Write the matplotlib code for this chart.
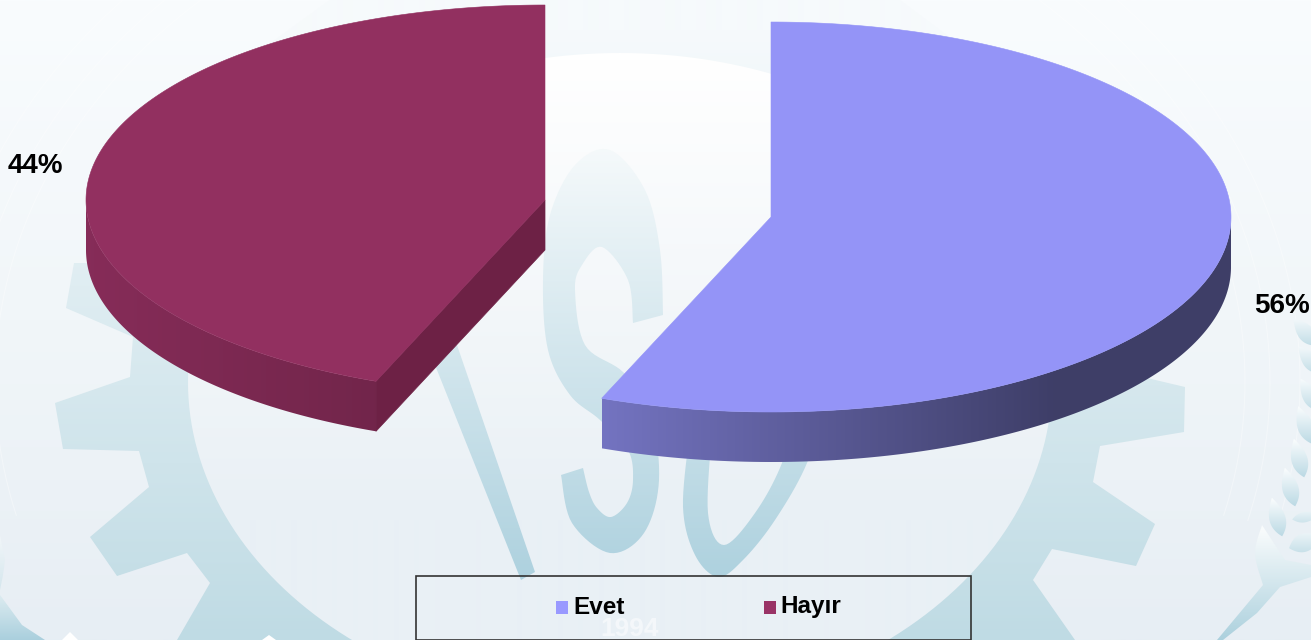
import numpy as np
import matplotlib
matplotlib.use("Agg")
import matplotlib.pyplot as plt
from matplotlib.path import Path
from matplotlib.patches import PathPatch, Polygon, Rectangle
from matplotlib.colors import LinearSegmentedColormap, to_rgb

# ---- data ----
categories = ["Evet", "Hayır"]
values = [56, 44]
labels = ["56%", "44%"]
top_colors = ["#9494F7", "#923060"]
legend_colors = ["#9999FF", "#993366"]
label_xy = [(1282, 306), (35.5, 166)]

W, H = 1311, 640
fig = plt.figure(figsize=(W / 100, H / 100), dpi=100)
ax = fig.add_axes([0, 0, 1, 1])
ax.set_xlim(0, W)
ax.set_ylim(H, 0)
ax.axis("off")
FONT = ["Liberation Sans", "DejaVu Sans"]
plt.rcParams["font.family"] = FONT

EXT = (0, W, H, 0)

# ---- background gradient ----
bg = LinearSegmentedColormap.from_list("bg", [(0, "#F9FCFE"), (0.5, "#F1F6F9"), (1, "#E7EEF4")])
ax.imshow(np.linspace(0, 1, 256)[:, None], cmap=bg, extent=EXT, aspect="auto", zorder=0)


def smooth(pts, n=10):
    p = np.array([pts[0]] + list(pts) + [pts[-1]], float)
    out = []
    for i in range(1, len(p) - 2):
        for t in np.linspace(0, 1, n, endpoint=False):
            out.append(0.5 * (2 * p[i] + (p[i + 1] - p[i - 1]) * t
                              + (2 * p[i - 1] - 5 * p[i] + 4 * p[i + 1] - p[i + 2]) * t ** 2
                              + (3 * p[i] - p[i - 1] - 3 * p[i + 1] + p[i + 2]) * t ** 3))
    out.append(p[-2])
    return np.array(out)


def grad_fill(path, c0, c1, y0, y1, z):
    """paint a vertical gradient clipped to a path"""
    a, b = np.array(to_rgb(c0)), np.array(to_rgb(c1))
    ys = np.clip((np.arange(H) - y0) / (y1 - y0), 0, 1)
    img = (a + (b - a) * ys[:, None])[:, None, :]
    im = ax.imshow(img, extent=EXT, aspect="auto", zorder=z, interpolation="bilinear")
    patch = PathPatch(path, transform=ax.transData, fc="none", ec="none")
    ax.add_patch(patch)
    im.set_clip_path(patch)


def compound(*rings):
    verts, codes = [], []
    for r in rings:
        r = np.asarray(r)
        verts.extend(r.tolist() + [r[0].tolist()])
        codes.extend([Path.MOVETO] + [Path.LINETO] * (len(r) - 1) + [Path.CLOSEPOLY])
    return Path(verts, codes)


# ---- watermark: gear ----
gear_outer = [(620, -40), (900, 0), (1060, 120), (1147, 378), (1185, 387), (1184, 432), (1100, 446),
              (1093, 482), (1155, 524), (1136, 566), (1052, 549), (1033, 580), (1075, 640),
              (1075, 700), (177, 700), (177, 640), (210, 583), (187, 553), (117, 576), (90, 537), (149, 487),
              (139, 451), (63, 449), (55, 403), (130, 377), (133, 337), (66, 308), (74, 263),
              (110, 263), (150, 130), (330, 0)]
t = np.linspace(0, 2 * np.pi, 240, endpoint=False)
gear_inner = np.c_[620 + 432 * np.cos(t), 382 + 329 * np.sin(t)]
grad_fill(compound(gear_outer, gear_inner), "#F6FAFC", "#BFDBE4", 30, 640, 1)
grad_fill(compound(gear_inner), "#FFFFFF", "#E9F0F5", 60, 520, 1)

# ---- faint white arcs, upper part only ----
for rx, ry in [(625, 515), (650, 535), (680, 560)]:
    th = np.radians(np.linspace(165, 375, 300))
    ax.plot(620 + rx * np.cos(th), 382 + ry * np.sin(th), color="white", lw=0.8, alpha=0.35, zorder=1.5)
ax.set_xlim(0, W)
ax.set_ylim(H, 0)

# ---- watermark: letters ----
letter_I = [(409, 300), (441.5, 300), (535, 572), (521, 580)]
s_up = [(663, 315), (660, 250), (645, 190), (610, 150), (575, 165), (550, 215), (543, 280), (548, 350),
        (570, 395), (600, 420), (628, 450), (633, 480), (627, 503), (611, 517), (597, 508), (589, 492), (583, 468)]
s_lo = [(561, 475), (572, 523), (610, 553), (644, 533), (659, 480), (650, 410), (623, 372), (585, 345),
        (575, 290), (582, 265), (602, 247), (628, 280), (633, 323)]
letter_S = np.vstack([smooth(s_up), smooth(s_lo)])
o_out = [(690, 430), (683, 507), (695, 555), (718, 577), (743, 560), (775, 520), (807, 463), (825, 400)]
o_in = [(800, 400), (782, 463), (755, 513), (724, 545), (708, 513), (712, 430)]
letter_O = np.vstack([smooth(o_out), smooth(o_in)])
for shape in (letter_I, letter_S, letter_O):
    grad_fill(compound(shape), "#F8FBFC", "#AFD2DF", 130, 570, 2)

# ---- watermark: year ----
ax.text(630, 629, "1994", fontsize=19, fontweight="bold", color="white", alpha=0.5, ha="center",
        va="center", zorder=2, family=FONT)


# ---- watermark: wheat ----
def leaf(cx, cy, w, h, tilt):
    s = np.linspace(-1, 1, 40)
    half = (1 - s ** 2) * (w / 2) * (1 + 0.25 * s)
    ring = np.vstack([np.c_[half, s * h / 2], np.c_[-half[::-1], s[::-1] * h / 2]])
    a = np.radians(tilt)
    return np.c_[cx + ring[:, 0] * np.cos(a) - ring[:, 1] * np.sin(a),
                 cy + ring[:, 0] * np.sin(a) + ring[:, 1] * np.cos(a)]


grains = [(1305, 332, 16, 36, -40), (1310, 360, 16, 36, -40), (1310, 395, 16, 38, -30), (1305, 425, 16, 40, -20),
          (1299, 458, 16, 40, -15), (1290, 487, 16, 40, -15), (1277, 517, 16, 40, -15), (1306, 517, 10, 28, 80),
          (1306, 542, 18, 36, 70)]
for gx, gy, gw, gh, ang in grains:
    grad_fill(compound(leaf(gx, gy, gw, gh, ang)), "#FBFDFE", "#B9D8E3", gy - gh / 2, gy + gh / 2, 2)
grad_fill(compound(smooth([(1262, 525), (1255, 553), (1263, 585)]).tolist()
                   + [(1217, 640), (1223, 640), (1257, 613), (1280, 587), (1311, 577), (1311, 565), (1285, 560)]),
          "#F8FBFC", "#ABD0DD", 530, 640, 2.5)
grad_fill(compound([(0, 535), (5, 560), (3, 575), (0, 590)]), "#F4F8FA", "#CFE3EB", 530, 600, 2)
grad_fill(compound([(0, 595), (22, 625), (45, 640), (0, 640)]), "#DCEBF0", "#A9CFDD", 595, 640, 2)
for tri in ([(62, 640), (70, 632), (78, 640)], [(262, 640), (269, 635), (276, 640)]):
    ax.add_patch(Polygon(tri, fc="white", ec="none", zorder=2))


# ---- pies ----
def shade(c, f):
    return tuple(np.array(to_rgb(c)) * f)


geom = [dict(cx=771, cy=217, rx=460, ry=195), dict(cx=545, cy=200, rx=459, ry=195)]
depth = 50
total = sum(values)
fracs = [v / total * 2 * np.pi for v in values]
starts = [0.0, fracs[0]]   # clockwise from 12 o'clock

for i, (g, st, fr, col) in enumerate(zip(geom, starts, fracs, top_colors)):
    th = np.linspace(st, st + fr, 300)
    x = g["cx"] + g["rx"] * np.sin(th)
    y = g["cy"] - g["ry"] * np.cos(th)
    if i == 0:
        mask = th >= np.pi / 2
    else:
        mask = th <= 3 * np.pi / 2
        ex, ey = x[0], y[0]
        ax.add_patch(Polygon([(g["cx"], g["cy"]), (ex, ey), (ex, ey + depth), (g["cx"], g["cy"] + depth)],
                             fc="#6D2145", ec="#6D2145", lw=0.5, zorder=5))
    xs, ys = x[mask], y[mask]
    cm = (LinearSegmentedColormap.from_list("s", [shade(col, .78), shade(col, .42)]) if i == 0 else
          LinearSegmentedColormap.from_list("s", [shade(col, .92), shade(col, .78)]))
    wall = np.vstack([np.c_[xs, ys], np.c_[xs[::-1], ys[::-1] + depth]])
    p = Polygon(wall, fc="none", ec="none", transform=ax.transData)
    ax.add_patch(p)
    x0, x1 = xs.min(), xs.max()
    xr = np.linspace(0, 1, 256)[None, :]
    if i == 0:
        xr = np.clip(xr / 0.72, 0, 1)
    im = ax.imshow(xr, cmap=cm, extent=(x0, x1, g["cy"] + g["ry"] + depth + 5, g["cy"] - 10), aspect="auto", zorder=5)
    im.set_clip_path(p)
    ax.add_patch(Polygon(np.vstack([[g["cx"], g["cy"]], np.c_[x, y]]), fc=col, ec=col, lw=0.4, zorder=6))

ax.set_xlim(0, W)
ax.set_ylim(H, 0)

# ---- data labels ----
for (lx, ly), s in zip(label_xy, labels):
    ax.text(lx, ly, s, ha="center", va="center", fontsize=20, fontweight="bold", color="black", zorder=8,
            family=FONT)

# ---- legend ----
ax.add_patch(Rectangle((416, 575.5), 555, 64, fc="none", ec="#333333", lw=1.2, zorder=8, clip_on=False))
for cat, c, mx, tx in zip(categories, legend_colors, [562, 770], [573, 780.5]):
    ax.add_patch(Rectangle((mx - 6, 601), 11.5, 13, fc=c, ec="none", zorder=8))
    ax.text(tx, 607, cat, ha="left", va="center", fontsize=17.5, fontweight="bold", color="black", zorder=8,
            family=FONT)

fig.savefig("out.png", dpi=100)
